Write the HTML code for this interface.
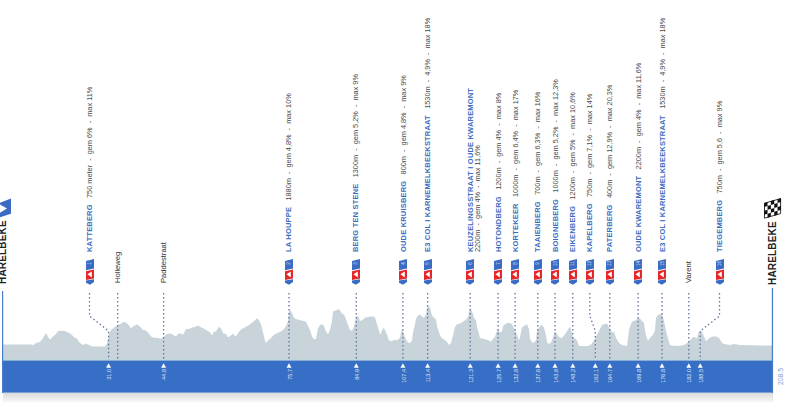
<!DOCTYPE html>
<html><head><meta charset="utf-8"><style>
html,body{margin:0;padding:0;background:#fff;}
body{width:800px;height:402px;overflow:hidden;position:relative;font-family:"Liberation Sans",Arial,sans-serif;}
.r{position:absolute;transform-origin:0 0;transform:rotate(-90deg);white-space:nowrap;font-size:7.5px;}
.n{font-weight:bold;color:#3a6cc0;font-size:7.50px;letter-spacing:0.18px;}
.d{color:#4a4a4a;font-size:7.35px;}
.p{color:#333;font-size:7.6px;}
.k{color:rgba(255,255,255,0.75);font-size:4.6px;}
.km{color:rgba(255,255,255,0.85);font-size:5.5px;}
svg{position:absolute;left:0;top:0;}
</style></head><body>

<svg width="800" height="402" viewBox="0 0 800 402">
<defs><linearGradient id="sh" x1="0" y1="0" x2="0" y2="1"><stop offset="0" stop-color="#d9d9d9"/><stop offset="1" stop-color="#f7f7f7"/></linearGradient></defs>
<rect x="3" y="392.5" width="770" height="9.5" fill="url(#sh)"/>
<polygon points="3,361 3.0,344.5 31.5,344.5 33.0,345.3 36.0,343.0 40.0,342.0 43.0,338.0 46.0,333.0 48.0,337.0 50.0,339.6 53.0,336.4 56.0,334.0 57.5,331.5 60.0,330.7 65.0,331.0 68.0,332.4 71.0,334.0 74.0,337.0 77.0,338.8 80.0,342.9 83.0,345.0 86.0,343.4 89.0,345.0 92.0,346.6 105.0,346.6 107.0,343.7 109.0,334.0 111.0,330.0 115.0,326.7 118.0,325.0 120.0,324.3 122.0,322.7 125.0,321.8 128.0,324.3 131.0,328.3 134.0,326.0 137.0,324.3 140.0,326.7 143.0,330.0 145.0,330.0 148.0,332.4 151.0,336.4 154.0,337.7 158.0,338.0 161.0,338.8 164.0,336.4 167.0,334.0 170.0,333.2 173.0,334.8 176.0,336.4 178.0,334.0 180.0,333.2 183.0,334.8 186.0,329.0 189.0,329.0 192.0,327.5 195.0,326.7 198.0,325.6 201.0,327.2 204.0,328.8 207.0,330.4 210.0,332.4 212.0,335.3 214.0,331.5 216.0,331.5 219.0,326.7 221.0,328.3 223.0,333.2 226.0,334.0 228.0,337.2 231.0,335.6 233.0,333.2 235.0,336.4 237.0,334.8 240.0,330.4 243.0,328.3 246.0,326.7 249.0,325.0 252.0,322.7 255.0,320.2 257.0,318.1 259.0,320.2 261.0,324.3 263.0,332.4 265.0,340.5 266.0,342.9 268.0,340.5 271.0,338.0 274.0,334.8 277.0,333.2 281.0,331.5 284.0,329.1 286.0,325.9 288.0,321.0 289.0,311.3 290.0,309.7 292.0,313.0 294.0,317.8 296.0,319.0 298.0,319.4 300.0,320.2 303.0,320.7 306.0,321.8 308.0,325.9 310.0,330.0 312.0,336.4 314.0,339.3 316.0,338.8 318.0,328.3 320.0,325.0 322.0,324.3 324.0,325.9 326.0,331.5 328.0,334.0 330.0,330.0 332.0,321.0 333.0,311.3 336.0,310.5 338.0,308.9 340.0,310.5 342.0,313.8 344.0,314.6 346.0,319.4 348.0,325.0 350.0,330.0 352.0,330.7 354.0,326.7 356.0,317.8 358.0,315.4 360.0,321.0 362.0,320.2 365.0,317.8 368.0,317.0 372.0,316.2 375.0,317.5 377.0,324.3 379.0,330.7 380.0,334.8 382.0,330.7 383.5,327.5 385.0,330.0 387.0,334.8 389.0,340.5 392.0,341.3 394.0,339.6 396.0,340.5 398.0,339.6 400.0,338.0 401.0,332.4 402.0,329.1 404.0,334.8 406.0,339.6 408.0,342.4 410.0,342.9 412.0,340.5 413.0,332.4 415.0,324.3 416.0,318.6 418.0,315.4 420.0,314.6 422.0,316.2 424.0,317.8 426.0,313.8 427.0,308.0 428.0,305.7 430.0,307.3 432.0,315.4 434.0,317.8 436.0,319.4 437.0,325.9 439.0,332.4 441.0,337.2 444.0,339.6 447.0,342.0 449.0,345.0 451.0,342.9 453.0,335.6 455.0,326.7 457.0,324.3 460.0,323.5 463.0,321.8 466.0,319.4 468.0,317.0 469.0,312.1 470.0,308.1 472.0,311.3 474.0,317.8 476.0,320.2 477.0,326.7 479.0,334.0 480.0,338.0 483.0,338.8 486.0,339.6 489.0,340.5 491.0,341.7 493.0,338.8 495.0,337.2 497.0,330.0 498.0,329.1 500.0,332.4 502.0,331.5 503.0,326.0 506.0,323.5 509.0,322.7 512.0,324.3 514.0,328.3 516.0,332.4 518.0,337.2 519.0,340.5 521.0,332.4 522.0,327.5 525.0,325.6 527.0,324.3 529.0,329.1 530.0,338.8 532.0,342.4 534.0,342.4 536.0,340.5 537.0,330.7 539.0,327.5 540.0,325.9 542.0,325.0 544.0,327.5 546.0,335.6 547.0,342.0 549.0,344.0 551.0,342.4 553.0,337.2 555.0,331.5 557.0,334.0 559.0,337.2 562.0,338.0 564.0,335.6 567.0,331.5 569.0,327.8 570.0,326.7 572.0,333.2 573.0,337.2 575.0,338.5 577.0,340.5 579.0,346.1 583.0,346.1 588.0,346.1 591.0,344.5 594.0,340.5 597.0,334.8 599.0,330.7 602.0,325.0 605.0,324.0 607.0,323.5 610.0,329.0 613.0,333.0 614.0,331.5 616.0,338.0 619.0,343.0 622.0,345.0 627.0,346.0 629.0,330.0 630.0,326.7 632.0,321.8 634.0,320.7 636.0,320.2 638.0,317.5 640.0,318.6 642.0,321.0 644.0,322.7 645.0,330.7 647.0,338.8 648.0,340.5 650.0,338.0 653.0,334.8 655.0,330.0 656.0,317.8 658.0,314.9 660.0,314.2 662.0,313.8 664.0,321.0 666.0,330.7 668.0,338.8 670.0,345.3 675.0,345.8 680.0,345.8 684.0,345.0 687.0,342.9 690.0,340.5 692.0,338.0 694.0,336.4 696.0,338.0 697.0,338.8 698.0,334.0 700.0,330.7 702.0,331.5 704.0,336.4 706.0,341.3 708.0,339.6 710.0,337.5 713.0,336.4 716.0,336.4 719.0,338.0 721.0,341.3 723.0,343.7 727.0,344.5 730.0,345.0 734.0,344.0 737.0,344.5 740.0,345.0 750.0,345.3 760.0,345.5 772.0,345.6 772.5,361" fill="#c9d4da"/>
<rect x="3" y="358.8" width="769" height="1.8" fill="#bcd9e0"/>
<rect x="2" y="360.6" width="771" height="32" fill="#366fc5"/>
<rect x="2" y="291" width="1.2" height="102" fill="#4a7ccc"/>
<rect x="771.8" y="288" width="1.3" height="105" fill="#4a7ccc"/>
<path d="M89.5,293 L89.5,316 L108.6,331 L108.6,360" fill="none" stroke="#62759c" stroke-width="1.3" stroke-dasharray="1.5 2.5"/>
<path d="M289.0,293 L289.0,360" fill="none" stroke="#62759c" stroke-width="1.3" stroke-dasharray="1.5 2.5"/>
<path d="M356.3,293 L356.3,360" fill="none" stroke="#62759c" stroke-width="1.3" stroke-dasharray="1.5 2.5"/>
<path d="M402.9,293 L402.9,360" fill="none" stroke="#62759c" stroke-width="1.3" stroke-dasharray="1.5 2.5"/>
<path d="M427.6,293 L427.6,360" fill="none" stroke="#62759c" stroke-width="1.3" stroke-dasharray="1.5 2.5"/>
<path d="M470.2,293 L470.2,360" fill="none" stroke="#62759c" stroke-width="1.3" stroke-dasharray="1.5 2.5"/>
<path d="M498.1,293 L498.1,360" fill="none" stroke="#62759c" stroke-width="1.3" stroke-dasharray="1.5 2.5"/>
<path d="M515.1,293 L515.1,360" fill="none" stroke="#62759c" stroke-width="1.3" stroke-dasharray="1.5 2.5"/>
<path d="M537.8,293 L537.8,360" fill="none" stroke="#62759c" stroke-width="1.3" stroke-dasharray="1.5 2.5"/>
<path d="M555.0,293 L555.0,360" fill="none" stroke="#62759c" stroke-width="1.3" stroke-dasharray="1.5 2.5"/>
<path d="M572.8,293 L572.8,360" fill="none" stroke="#62759c" stroke-width="1.3" stroke-dasharray="1.5 2.5"/>
<path d="M589.8,293 L589.8,316 L595.3,331 L595.3,360" fill="none" stroke="#62759c" stroke-width="1.3" stroke-dasharray="1.5 2.5"/>
<path d="M609.8,293 L609.8,360" fill="none" stroke="#62759c" stroke-width="1.3" stroke-dasharray="1.5 2.5"/>
<path d="M638.1,293 L638.1,360" fill="none" stroke="#62759c" stroke-width="1.3" stroke-dasharray="1.5 2.5"/>
<path d="M662.0,293 L662.0,360" fill="none" stroke="#62759c" stroke-width="1.3" stroke-dasharray="1.5 2.5"/>
<path d="M719.5,293 L719.5,316 L700.2,331 L700.2,360" fill="none" stroke="#62759c" stroke-width="1.3" stroke-dasharray="1.5 2.5"/>
<path d="M117.7,293 L117.7,360" fill="none" stroke="#62759c" stroke-width="1.3" stroke-dasharray="1.5 2.5"/>
<path d="M163.6,293 L163.6,360" fill="none" stroke="#62759c" stroke-width="1.3" stroke-dasharray="1.5 2.5"/>
<path d="M688.8,293 L688.8,360" fill="none" stroke="#62759c" stroke-width="1.3" stroke-dasharray="1.5 2.5"/>
<polygon points="108.6,363.3 106.1,367.7 111.1,367.7" fill="#fff"/>
<polygon points="289.0,363.3 286.5,367.7 291.5,367.7" fill="#fff"/>
<polygon points="356.3,363.3 353.8,367.7 358.8,367.7" fill="#fff"/>
<polygon points="402.9,363.3 400.4,367.7 405.4,367.7" fill="#fff"/>
<polygon points="427.6,363.3 425.1,367.7 430.1,367.7" fill="#fff"/>
<polygon points="470.2,363.3 467.7,367.7 472.7,367.7" fill="#fff"/>
<polygon points="498.1,363.3 495.6,367.7 500.6,367.7" fill="#fff"/>
<polygon points="515.1,363.3 512.6,367.7 517.6,367.7" fill="#fff"/>
<polygon points="537.8,363.3 535.3,367.7 540.3,367.7" fill="#fff"/>
<polygon points="555.0,363.3 552.5,367.7 557.5,367.7" fill="#fff"/>
<polygon points="572.8,363.3 570.3,367.7 575.3,367.7" fill="#fff"/>
<polygon points="595.3,363.3 592.8,367.7 597.8,367.7" fill="#fff"/>
<polygon points="609.8,363.3 607.3,367.7 612.3,367.7" fill="#fff"/>
<polygon points="638.1,363.3 635.6,367.7 640.6,367.7" fill="#fff"/>
<polygon points="662.0,363.3 659.5,367.7 664.5,367.7" fill="#fff"/>
<polygon points="700.2,363.3 697.7,367.7 702.7,367.7" fill="#fff"/>
<polygon points="163.6,363.3 161.1,367.7 166.1,367.7" fill="#fff"/>
<polygon points="688.8,363.3 686.3,367.7 691.3,367.7" fill="#fff"/>
</svg>
<svg style="left:85.5px;top:258.8px" width="9" height="27" viewBox="0 0 9 27"><polygon points="0,2 8,0 8,9.5 0,11.3" fill="#3a6cc4"/><polygon points="0,12.2 8,10.5 8,19.6 0,20.9" fill="#e52629"/><polygon points="1.5,15.2 5.8,12.4 5.8,18.6" fill="#fff"/><polygon points="0,21.6 8,20.3 8,23 4,25.8 0,23.8" fill="#3a6cc4"/></svg>
<div class="r k" style="left:87.0px;top:268.0px;line-height:5px;width:9px;text-align:center">1</div>
<svg style="left:284.7px;top:258.8px" width="9" height="27" viewBox="0 0 9 27"><polygon points="0,2 8,0 8,9.5 0,11.3" fill="#3a6cc4"/><polygon points="0,12.2 8,10.5 8,19.6 0,20.9" fill="#e52629"/><polygon points="1.5,15.2 5.8,12.4 5.8,18.6" fill="#fff"/><polygon points="0,21.6 8,20.3 8,23 4,25.8 0,23.8" fill="#3a6cc4"/></svg>
<div class="r k" style="left:286.2px;top:268.0px;line-height:5px;width:9px;text-align:center">2</div>
<svg style="left:351.8px;top:258.8px" width="9" height="27" viewBox="0 0 9 27"><polygon points="0,2 8,0 8,9.5 0,11.3" fill="#3a6cc4"/><polygon points="0,12.2 8,10.5 8,19.6 0,20.9" fill="#e52629"/><polygon points="1.5,15.2 5.8,12.4 5.8,18.6" fill="#fff"/><polygon points="0,21.6 8,20.3 8,23 4,25.8 0,23.8" fill="#3a6cc4"/></svg>
<div class="r k" style="left:353.3px;top:268.0px;line-height:5px;width:9px;text-align:center">3</div>
<svg style="left:399.0px;top:258.8px" width="9" height="27" viewBox="0 0 9 27"><polygon points="0,2 8,0 8,9.5 0,11.3" fill="#3a6cc4"/><polygon points="0,12.2 8,10.5 8,19.6 0,20.9" fill="#e52629"/><polygon points="1.5,15.2 5.8,12.4 5.8,18.6" fill="#fff"/><polygon points="0,21.6 8,20.3 8,23 4,25.8 0,23.8" fill="#3a6cc4"/></svg>
<div class="r k" style="left:400.5px;top:268.0px;line-height:5px;width:9px;text-align:center">4</div>
<svg style="left:423.5px;top:258.8px" width="9" height="27" viewBox="0 0 9 27"><polygon points="0,2 8,0 8,9.5 0,11.3" fill="#3a6cc4"/><polygon points="0,12.2 8,10.5 8,19.6 0,20.9" fill="#e52629"/><polygon points="1.5,15.2 5.8,12.4 5.8,18.6" fill="#fff"/><polygon points="0,21.6 8,20.3 8,23 4,25.8 0,23.8" fill="#3a6cc4"/></svg>
<div class="r k" style="left:425.0px;top:268.0px;line-height:5px;width:9px;text-align:center">5</div>
<svg style="left:466.0px;top:258.8px" width="9" height="27" viewBox="0 0 9 27"><polygon points="0,2 8,0 8,9.5 0,11.3" fill="#3a6cc4"/><polygon points="0,12.2 8,10.5 8,19.6 0,20.9" fill="#e52629"/><polygon points="1.5,15.2 5.8,12.4 5.8,18.6" fill="#fff"/><polygon points="0,21.6 8,20.3 8,23 4,25.8 0,23.8" fill="#3a6cc4"/></svg>
<div class="r k" style="left:467.5px;top:268.0px;line-height:5px;width:9px;text-align:center">6</div>
<svg style="left:494.3px;top:258.8px" width="9" height="27" viewBox="0 0 9 27"><polygon points="0,2 8,0 8,9.5 0,11.3" fill="#3a6cc4"/><polygon points="0,12.2 8,10.5 8,19.6 0,20.9" fill="#e52629"/><polygon points="1.5,15.2 5.8,12.4 5.8,18.6" fill="#fff"/><polygon points="0,21.6 8,20.3 8,23 4,25.8 0,23.8" fill="#3a6cc4"/></svg>
<div class="r k" style="left:495.8px;top:268.0px;line-height:5px;width:9px;text-align:center">7</div>
<svg style="left:511.3px;top:258.8px" width="9" height="27" viewBox="0 0 9 27"><polygon points="0,2 8,0 8,9.5 0,11.3" fill="#3a6cc4"/><polygon points="0,12.2 8,10.5 8,19.6 0,20.9" fill="#e52629"/><polygon points="1.5,15.2 5.8,12.4 5.8,18.6" fill="#fff"/><polygon points="0,21.6 8,20.3 8,23 4,25.8 0,23.8" fill="#3a6cc4"/></svg>
<div class="r k" style="left:512.8px;top:268.0px;line-height:5px;width:9px;text-align:center">8</div>
<svg style="left:533.8px;top:258.8px" width="9" height="27" viewBox="0 0 9 27"><polygon points="0,2 8,0 8,9.5 0,11.3" fill="#3a6cc4"/><polygon points="0,12.2 8,10.5 8,19.6 0,20.9" fill="#e52629"/><polygon points="1.5,15.2 5.8,12.4 5.8,18.6" fill="#fff"/><polygon points="0,21.6 8,20.3 8,23 4,25.8 0,23.8" fill="#3a6cc4"/></svg>
<div class="r k" style="left:535.3px;top:268.0px;line-height:5px;width:9px;text-align:center">9</div>
<svg style="left:551.0px;top:258.8px" width="9" height="27" viewBox="0 0 9 27"><polygon points="0,2 8,0 8,9.5 0,11.3" fill="#3a6cc4"/><polygon points="0,12.2 8,10.5 8,19.6 0,20.9" fill="#e52629"/><polygon points="1.5,15.2 5.8,12.4 5.8,18.6" fill="#fff"/><polygon points="0,21.6 8,20.3 8,23 4,25.8 0,23.8" fill="#3a6cc4"/></svg>
<div class="r k" style="left:552.5px;top:268.0px;line-height:5px;width:9px;text-align:center">10</div>
<svg style="left:568.8px;top:258.8px" width="9" height="27" viewBox="0 0 9 27"><polygon points="0,2 8,0 8,9.5 0,11.3" fill="#3a6cc4"/><polygon points="0,12.2 8,10.5 8,19.6 0,20.9" fill="#e52629"/><polygon points="1.5,15.2 5.8,12.4 5.8,18.6" fill="#fff"/><polygon points="0,21.6 8,20.3 8,23 4,25.8 0,23.8" fill="#3a6cc4"/></svg>
<div class="r k" style="left:570.3px;top:268.0px;line-height:5px;width:9px;text-align:center">11</div>
<svg style="left:585.8px;top:258.8px" width="9" height="27" viewBox="0 0 9 27"><polygon points="0,2 8,0 8,9.5 0,11.3" fill="#3a6cc4"/><polygon points="0,12.2 8,10.5 8,19.6 0,20.9" fill="#e52629"/><polygon points="1.5,15.2 5.8,12.4 5.8,18.6" fill="#fff"/><polygon points="0,21.6 8,20.3 8,23 4,25.8 0,23.8" fill="#3a6cc4"/></svg>
<div class="r k" style="left:587.3px;top:268.0px;line-height:5px;width:9px;text-align:center">12</div>
<svg style="left:605.8px;top:258.8px" width="9" height="27" viewBox="0 0 9 27"><polygon points="0,2 8,0 8,9.5 0,11.3" fill="#3a6cc4"/><polygon points="0,12.2 8,10.5 8,19.6 0,20.9" fill="#e52629"/><polygon points="1.5,15.2 5.8,12.4 5.8,18.6" fill="#fff"/><polygon points="0,21.6 8,20.3 8,23 4,25.8 0,23.8" fill="#3a6cc4"/></svg>
<div class="r k" style="left:607.3px;top:268.0px;line-height:5px;width:9px;text-align:center">13</div>
<svg style="left:634.1px;top:258.8px" width="9" height="27" viewBox="0 0 9 27"><polygon points="0,2 8,0 8,9.5 0,11.3" fill="#3a6cc4"/><polygon points="0,12.2 8,10.5 8,19.6 0,20.9" fill="#e52629"/><polygon points="1.5,15.2 5.8,12.4 5.8,18.6" fill="#fff"/><polygon points="0,21.6 8,20.3 8,23 4,25.8 0,23.8" fill="#3a6cc4"/></svg>
<div class="r k" style="left:635.6px;top:268.0px;line-height:5px;width:9px;text-align:center">14</div>
<svg style="left:658.0px;top:258.8px" width="9" height="27" viewBox="0 0 9 27"><polygon points="0,2 8,0 8,9.5 0,11.3" fill="#3a6cc4"/><polygon points="0,12.2 8,10.5 8,19.6 0,20.9" fill="#e52629"/><polygon points="1.5,15.2 5.8,12.4 5.8,18.6" fill="#fff"/><polygon points="0,21.6 8,20.3 8,23 4,25.8 0,23.8" fill="#3a6cc4"/></svg>
<div class="r k" style="left:659.5px;top:268.0px;line-height:5px;width:9px;text-align:center">15</div>
<svg style="left:715.5px;top:258.8px" width="9" height="27" viewBox="0 0 9 27"><polygon points="0,2 8,0 8,9.5 0,11.3" fill="#3a6cc4"/><polygon points="0,12.2 8,10.5 8,19.6 0,20.9" fill="#e52629"/><polygon points="1.5,15.2 5.8,12.4 5.8,18.6" fill="#fff"/><polygon points="0,21.6 8,20.3 8,23 4,25.8 0,23.8" fill="#3a6cc4"/></svg>
<div class="r k" style="left:717.0px;top:268.0px;line-height:5px;width:9px;text-align:center">16</div>
<div class="r" style="left:85.0px;top:252.0px;line-height:9px"><span class="n">KATTEBERG</span><span class="d" style="margin-left:6.3px">750 meter&nbsp; - &nbsp;gem 6%&nbsp; - &nbsp;max 11%</span></div>
<div class="r" style="left:284.2px;top:252.0px;line-height:9px"><span class="n">LA HOUPPE</span><span class="d" style="margin-left:6.3px">1880m&nbsp; - &nbsp;gem 4,8%&nbsp; - &nbsp;max 10%</span></div>
<div class="r" style="left:351.3px;top:252.0px;line-height:9px"><span class="n">BERG TEN STENE</span><span class="d" style="margin-left:6.3px">1300m&nbsp; - &nbsp;gem 5,2%&nbsp; - &nbsp;max 9%</span></div>
<div class="r" style="left:398.5px;top:252.0px;line-height:9px"><span class="n">OUDE KRUISBERG</span><span class="d" style="margin-left:6.3px">800m&nbsp; - &nbsp;gem 4,8%&nbsp; - &nbsp;max 9%</span></div>
<div class="r" style="left:423.0px;top:252.0px;line-height:9px"><span class="n">E3 COL I KARNEMELKBEEKSTRAAT</span><span class="d" style="margin-left:6.3px">1530m&nbsp; - &nbsp;4,9%&nbsp; - &nbsp;max 18%</span></div>
<div class="r" style="left:465.5px;top:252.0px;line-height:9px"><span class="n">KEUZELINGSSTRAAT I OUDE KWAREMONT</span></div>
<div class="r" style="left:473.3px;top:252.0px;line-height:9px"><span class="d">2200m&nbsp; - &nbsp;gem 4%&nbsp; - &nbsp;max 11,6%</span></div>
<div class="r" style="left:493.8px;top:252.0px;line-height:9px"><span class="n">HOTONDBERG</span><span class="d" style="margin-left:6.3px">1200m&nbsp; - &nbsp;gem 4%&nbsp; - &nbsp;max 8%</span></div>
<div class="r" style="left:510.8px;top:252.0px;line-height:9px"><span class="n">KORTEKEER</span><span class="d" style="margin-left:6.3px">1000m&nbsp; - &nbsp;gem 6,4%&nbsp; - &nbsp;max 17%</span></div>
<div class="r" style="left:533.3px;top:252.0px;line-height:9px"><span class="n">TAAIENBERG</span><span class="d" style="margin-left:6.3px">700m&nbsp; - &nbsp;gem 6,3%&nbsp; - &nbsp;max 16%</span></div>
<div class="r" style="left:550.5px;top:252.0px;line-height:9px"><span class="n">BOIGNEBERG</span><span class="d" style="margin-left:6.3px">1000m&nbsp; - &nbsp;gem 5,2%&nbsp; - &nbsp;max 12,3%</span></div>
<div class="r" style="left:568.3px;top:252.0px;line-height:9px"><span class="n">EIKENBERG</span><span class="d" style="margin-left:6.3px">1200m&nbsp; - &nbsp;gem 5%&nbsp; - &nbsp;max 10,6%</span></div>
<div class="r" style="left:585.3px;top:252.0px;line-height:9px"><span class="n">KAPELBERG</span><span class="d" style="margin-left:6.3px">750m&nbsp; - &nbsp;gem 7,1%&nbsp; - &nbsp;max 14%</span></div>
<div class="r" style="left:605.3px;top:252.0px;line-height:9px"><span class="n">PATERBERG</span><span class="d" style="margin-left:6.3px">400m&nbsp; - &nbsp;gem 12,9%&nbsp; - &nbsp;max 20,3%</span></div>
<div class="r" style="left:633.6px;top:252.0px;line-height:9px"><span class="n">OUDE KWAREMONT</span><span class="d" style="margin-left:6.3px">2200m&nbsp; - &nbsp;gem 4%&nbsp; - &nbsp;max 11,6%</span></div>
<div class="r" style="left:657.5px;top:252.0px;line-height:9px"><span class="n">E3 COL I KARNEMELKBEEKSTRAAT</span><span class="d" style="margin-left:6.3px">1530m&nbsp; - &nbsp;4,9%&nbsp; - &nbsp;max 18%</span></div>
<div class="r" style="left:715.0px;top:252.0px;line-height:9px"><span class="n">TIEGEMBERG</span><span class="d" style="margin-left:6.3px">750m&nbsp; - &nbsp;gem 5,6&nbsp; - &nbsp;max 9%</span></div>
<div class="r p" style="left:112.6px;top:283.3px;line-height:9px">Holleweg</div>
<div class="r p" style="left:158.5px;top:283.3px;line-height:9px">Paddestraat</div>
<div class="r p" style="left:683.7px;top:283.3px;line-height:9px">Varent</div>
<div class="r km" style="left:106.2px;top:389.2px;line-height:6px;width:20px;text-align:right">31.0</div>
<div class="r km" style="left:286.6px;top:389.2px;line-height:6px;width:20px;text-align:right">75.7</div>
<div class="r km" style="left:353.9px;top:389.2px;line-height:6px;width:20px;text-align:right">84.9</div>
<div class="r km" style="left:400.5px;top:389.2px;line-height:6px;width:20px;text-align:right">107.4</div>
<div class="r km" style="left:425.2px;top:389.2px;line-height:6px;width:20px;text-align:right">113.4</div>
<div class="r km" style="left:467.8px;top:389.2px;line-height:6px;width:20px;text-align:right">121.3</div>
<div class="r km" style="left:495.7px;top:389.2px;line-height:6px;width:20px;text-align:right">125.7</div>
<div class="r km" style="left:512.7px;top:389.2px;line-height:6px;width:20px;text-align:right">132.8</div>
<div class="r km" style="left:535.4px;top:389.2px;line-height:6px;width:20px;text-align:right">137.6</div>
<div class="r km" style="left:552.6px;top:389.2px;line-height:6px;width:20px;text-align:right">143.8</div>
<div class="r km" style="left:570.4px;top:389.2px;line-height:6px;width:20px;text-align:right">148.2</div>
<div class="r km" style="left:592.9px;top:389.2px;line-height:6px;width:20px;text-align:right">162.1</div>
<div class="r km" style="left:607.4px;top:389.2px;line-height:6px;width:20px;text-align:right">164.7</div>
<div class="r km" style="left:635.7px;top:389.2px;line-height:6px;width:20px;text-align:right">169.8</div>
<div class="r km" style="left:659.6px;top:389.2px;line-height:6px;width:20px;text-align:right">176.8</div>
<div class="r km" style="left:697.8px;top:389.2px;line-height:6px;width:20px;text-align:right">188.5</div>
<div class="r km" style="left:161.2px;top:389.2px;line-height:6px;width:20px;text-align:right">44.8</div>
<div class="r km" style="left:686.4px;top:389.2px;line-height:6px;width:20px;text-align:right">182.0</div>
<div class="r" style="left:-2.5px;top:284px;line-height:10px;font-size:10px;letter-spacing:0.18px;font-weight:bold;color:#222">HARELBEKE</div>
<div class="r" style="left:767.5px;top:284.5px;line-height:10px;font-size:10px;letter-spacing:0.18px;font-weight:bold;color:#222">HARELBEKE</div>
<svg style="left:0;top:194px" width="12" height="26" viewBox="0 0 12 26"><polygon points="0,8.7 11,4.5 11,19.8 0,23.3" fill="#3a6cc4"/><polygon points="0,10.4 7,14.6 0,18.8" fill="#fff"/></svg>
<svg style="left:760px;top:194px" width="24" height="28" viewBox="0 0 24 28"><g transform="matrix(1,-0.287,0,1,4.2,9)"><rect x="0" y="0" width="16.7" height="15.6" fill="#fff"/><rect x="0.00" y="0.00" width="3.34" height="3.9" fill="#111"/><rect x="0.00" y="7.80" width="3.34" height="3.9" fill="#111"/><rect x="3.34" y="3.90" width="3.34" height="3.9" fill="#111"/><rect x="3.34" y="11.70" width="3.34" height="3.9" fill="#111"/><rect x="6.68" y="0.00" width="3.34" height="3.9" fill="#111"/><rect x="6.68" y="7.80" width="3.34" height="3.9" fill="#111"/><rect x="10.02" y="3.90" width="3.34" height="3.9" fill="#111"/><rect x="10.02" y="11.70" width="3.34" height="3.9" fill="#111"/><rect x="13.36" y="0.00" width="3.34" height="3.9" fill="#111"/><rect x="13.36" y="7.80" width="3.34" height="3.9" fill="#111"/><rect x="0.3" y="0.3" width="16.1" height="15" fill="none" stroke="#111" stroke-width="0.8"/></g></svg>
<div class="r" style="left:777px;top:384.5px;line-height:7px;font-size:6.8px;color:#7b9bd3">208.5</div>
</body></html>
